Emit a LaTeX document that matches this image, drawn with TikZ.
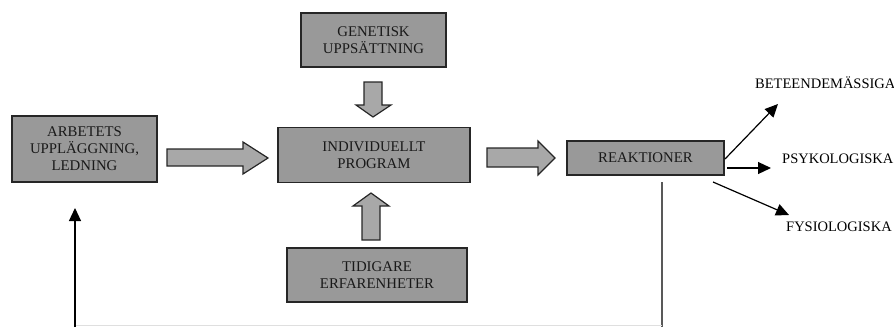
\documentclass[tikz,border=0pt]{standalone}
\usepackage{fontspec}
\setmainfont{Liberation Serif}
\usetikzlibrary{arrows.meta}
\definecolor{boxfill}{gray}{0.60}
\definecolor{arrfill}{gray}{0.66}
\definecolor{edge}{gray}{0.15}
\tikzset{
  box/.style={draw=edge, line width=1.3pt, fill=boxfill, inner sep=0pt, align=center,
    font=\fontsize{14.8}{17}\selectfont, text=black!90},
  blockarr/.style={draw=edge, line width=1.2pt, fill=arrfill, line join=miter},
  thin/.style={draw=black, line width=1.2pt, -{Triangle[length=13pt,width=12pt]}},
  lbl/.style={font=\fontsize{14.5}{16}\selectfont, inner sep=0pt, anchor=west}
}
\begin{document}
\begin{tikzpicture}[x=1pt,y=-1pt]
\useasboundingbox (0,0) rectangle (894,327);
% boxes
\node[box, minimum width=145pt, minimum height=66pt] (arb) at (84.5,149) {ARBETETS\\UPPLÄGGNING,\\LEDNING};
\node[box, minimum width=192pt, minimum height=55pt] (ind) at (374,155) {INDIVIDUELLT\\PROGRAM};
\node[box, minimum width=145pt, minimum height=54pt] (gen) at (373.5,40) {GENETISK\\UPPSÄTTNING};
\node[box, minimum width=180pt, minimum height=54pt] (tid) at (377,275) {TIDIGARE\\ERFARENHETER};
\node[box, minimum width=157pt, minimum height=34pt] (rea) at (645.5,158) {REAKTIONER};
% labels
\node[lbl] (bet) at (755,83) {BETEENDEMÄSSIGA};
\node[lbl] (psy) at (782,159) {PSYKOLOGISKA};
\node[lbl] (fys) at (786,227) {FYSIOLOGISKA};
% block arrows
\draw[blockarr] (167,149) -- (243,149) -- (243,142) -- (268,158) -- (243,174) -- (243,166) -- (167,166) -- cycle;
\draw[blockarr] (487,148) -- (538,148) -- (538,141) -- (555,158) -- (538,175) -- (538,167) -- (487,167) -- cycle;
\draw[blockarr] (364,82) -- (382,82) -- (382,105) -- (391,105) -- (373,117) -- (356,105) -- (364,105) -- cycle;
\draw[blockarr] (362,240) -- (380,240) -- (380,206) -- (389,206) -- (371,193) -- (353,206) -- (362,206) -- cycle;
% output arrows
\coordinate (b1) at (725,159);
\coordinate (p1) at (727,168);
\coordinate (f1) at (713,182);
\draw[thin] (b1) -- (778,104);
\draw[thin] (p1) -- (771,168);
\draw[thin] (f1) -- (789,215);
% feedback
\coordinate (r0) at (662,182);
\coordinate (r1) at (662,327);
\coordinate (c1) at (662,325.5);
\coordinate (c2) at (75,325.5);
\coordinate (a0) at (75,327);
\coordinate (a1) at (75,208);
\draw[gray!70!black, line width=1.1pt] (r0) -- (r1);
\draw[gray!25, line width=1pt] (c1) -- (c2);
\draw[thin] (a0) -- (a1);
\end{tikzpicture}
\end{document}
